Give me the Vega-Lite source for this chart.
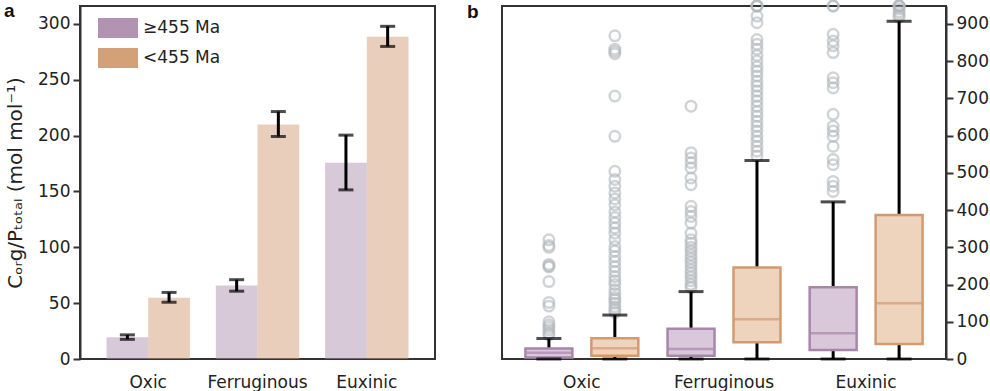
{
  "$schema": "https://vega.github.io/schema/vega-lite/v6.json",
  "padding": {"left": 3, "top": -6, "right": 0, "bottom": 0},
  "spacing": 30,
  "resolve": {"scale": {"xOffset": "independent", "fill": "independent", "stroke": "independent", "color": "independent"}, "legend": {"fill": "independent"}},
  "config": {
    "view": {"stroke": "#333333", "strokeWidth": 2},
    "axis": {"labelFont": "DejaVu Sans", "titleFont": "DejaVu Sans", "labelColor": "#222222", "titleColor": "#222222", "labelFontSize": 17, "grid": false},
    "title": {"font": "Liberation Sans", "fontSize": 19, "fontWeight": "bold", "color": "#111111"}
  },
  "datasets": {
    "bars": [
      {"cat": "Oxic", "grp": "≥455 Ma", "mean": 19.4, "lo": 17.6, "hi": 21.6},
      {"cat": "Oxic", "grp": "<455 Ma", "mean": 54.9, "lo": 50.8, "hi": 59.6},
      {"cat": "Ferruginous", "grp": "≥455 Ma", "mean": 65.7, "lo": 60.7, "hi": 71.0},
      {"cat": "Ferruginous", "grp": "<455 Ma", "mean": 210, "lo": 199.2, "hi": 221.5},
      {"cat": "Euxinic", "grp": "≥455 Ma", "mean": 175.6, "lo": 151.4, "hi": 200.4},
      {"cat": "Euxinic", "grp": "<455 Ma", "mean": 288.5, "lo": 279.8, "hi": 297.8}
    ],
    "boxes": [
      {"cat": "Oxic", "grp": "≥455 Ma", "lo": 0, "q1": 4, "med": 17, "q3": 28, "hi": 55},
      {"cat": "Oxic", "grp": "<455 Ma", "lo": 0, "q1": 9, "med": 29, "q3": 56, "hi": 118},
      {"cat": "Ferruginous", "grp": "≥455 Ma", "lo": 0, "q1": 9, "med": 27, "q3": 81, "hi": 181},
      {"cat": "Ferruginous", "grp": "<455 Ma", "lo": 0, "q1": 45, "med": 107, "q3": 246, "hi": 533},
      {"cat": "Euxinic", "grp": "≥455 Ma", "lo": 0, "q1": 24, "med": 69, "q3": 193, "hi": 422},
      {"cat": "Euxinic", "grp": "<455 Ma", "lo": 0, "q1": 40, "med": 150, "q3": 387, "hi": 907}
    ],
    "outliers": [
      {"cat": "Oxic", "grp": "≥455 Ma", "v": 320}, {"cat": "Oxic", "grp": "≥455 Ma", "v": 305}, {"cat": "Oxic", "grp": "≥455 Ma", "v": 300},
      {"cat": "Oxic", "grp": "≥455 Ma", "v": 254}, {"cat": "Oxic", "grp": "≥455 Ma", "v": 250}, {"cat": "Oxic", "grp": "≥455 Ma", "v": 247},
      {"cat": "Oxic", "grp": "≥455 Ma", "v": 208}, {"cat": "Oxic", "grp": "≥455 Ma", "v": 152}, {"cat": "Oxic", "grp": "≥455 Ma", "v": 142},
      {"cat": "Oxic", "grp": "≥455 Ma", "v": 100}, {"cat": "Oxic", "grp": "≥455 Ma", "v": 92}, {"cat": "Oxic", "grp": "≥455 Ma", "v": 85},
      {"cat": "Oxic", "grp": "≥455 Ma", "v": 78}, {"cat": "Oxic", "grp": "≥455 Ma", "v": 70}, {"cat": "Oxic", "grp": "≥455 Ma", "v": 65},
      {"cat": "Oxic", "grp": "<455 Ma", "v": 868}, {"cat": "Oxic", "grp": "<455 Ma", "v": 832}, {"cat": "Oxic", "grp": "<455 Ma", "v": 826},
      {"cat": "Oxic", "grp": "<455 Ma", "v": 820}, {"cat": "Oxic", "grp": "<455 Ma", "v": 706}, {"cat": "Oxic", "grp": "<455 Ma", "v": 598},
      {"cat": "Oxic", "grp": "<455 Ma", "v": 504}, {"cat": "Oxic", "grp": "<455 Ma", "v": 482}, {"cat": "Oxic", "grp": "<455 Ma", "v": 464},
      {"cat": "Oxic", "grp": "<455 Ma", "v": 446}, {"cat": "Oxic", "grp": "<455 Ma", "v": 430}, {"cat": "Oxic", "grp": "<455 Ma", "v": 414},
      {"cat": "Oxic", "grp": "<455 Ma", "v": 395}, {"cat": "Oxic", "grp": "<455 Ma", "v": 380}, {"cat": "Oxic", "grp": "<455 Ma", "v": 365},
      {"cat": "Oxic", "grp": "<455 Ma", "v": 352}, {"cat": "Oxic", "grp": "<455 Ma", "v": 338}, {"cat": "Oxic", "grp": "<455 Ma", "v": 320},
      {"cat": "Oxic", "grp": "<455 Ma", "v": 302}, {"cat": "Oxic", "grp": "<455 Ma", "v": 290}, {"cat": "Oxic", "grp": "<455 Ma", "v": 275},
      {"cat": "Oxic", "grp": "<455 Ma", "v": 262}, {"cat": "Oxic", "grp": "<455 Ma", "v": 248}, {"cat": "Oxic", "grp": "<455 Ma", "v": 235},
      {"cat": "Oxic", "grp": "<455 Ma", "v": 221}, {"cat": "Oxic", "grp": "<455 Ma", "v": 210}, {"cat": "Oxic", "grp": "<455 Ma", "v": 200},
      {"cat": "Oxic", "grp": "<455 Ma", "v": 186}, {"cat": "Oxic", "grp": "<455 Ma", "v": 175}, {"cat": "Oxic", "grp": "<455 Ma", "v": 165},
      {"cat": "Oxic", "grp": "<455 Ma", "v": 159}, {"cat": "Oxic", "grp": "<455 Ma", "v": 150}, {"cat": "Oxic", "grp": "<455 Ma", "v": 140},
      {"cat": "Oxic", "grp": "<455 Ma", "v": 132}, {"cat": "Oxic", "grp": "<455 Ma", "v": 125},
      {"cat": "Ferruginous", "grp": "≥455 Ma", "v": 679}, {"cat": "Ferruginous", "grp": "≥455 Ma", "v": 554}, {"cat": "Ferruginous", "grp": "≥455 Ma", "v": 540},
      {"cat": "Ferruginous", "grp": "≥455 Ma", "v": 527}, {"cat": "Ferruginous", "grp": "≥455 Ma", "v": 513}, {"cat": "Ferruginous", "grp": "≥455 Ma", "v": 486},
      {"cat": "Ferruginous", "grp": "≥455 Ma", "v": 468}, {"cat": "Ferruginous", "grp": "≥455 Ma", "v": 410}, {"cat": "Ferruginous", "grp": "≥455 Ma", "v": 396},
      {"cat": "Ferruginous", "grp": "≥455 Ma", "v": 383}, {"cat": "Ferruginous", "grp": "≥455 Ma", "v": 365}, {"cat": "Ferruginous", "grp": "≥455 Ma", "v": 338},
      {"cat": "Ferruginous", "grp": "≥455 Ma", "v": 320}, {"cat": "Ferruginous", "grp": "≥455 Ma", "v": 311}, {"cat": "Ferruginous", "grp": "≥455 Ma", "v": 300},
      {"cat": "Ferruginous", "grp": "≥455 Ma", "v": 290}, {"cat": "Ferruginous", "grp": "≥455 Ma", "v": 280}, {"cat": "Ferruginous", "grp": "≥455 Ma", "v": 270},
      {"cat": "Ferruginous", "grp": "≥455 Ma", "v": 260}, {"cat": "Ferruginous", "grp": "≥455 Ma", "v": 250}, {"cat": "Ferruginous", "grp": "≥455 Ma", "v": 240},
      {"cat": "Ferruginous", "grp": "≥455 Ma", "v": 230}, {"cat": "Ferruginous", "grp": "≥455 Ma", "v": 220}, {"cat": "Ferruginous", "grp": "≥455 Ma", "v": 210},
      {"cat": "Ferruginous", "grp": "≥455 Ma", "v": 200}, {"cat": "Ferruginous", "grp": "≥455 Ma", "v": 192},
      {"cat": "Ferruginous", "grp": "<455 Ma", "v": 948}, {"cat": "Ferruginous", "grp": "<455 Ma", "v": 948}, {"cat": "Ferruginous", "grp": "<455 Ma", "v": 948},
      {"cat": "Ferruginous", "grp": "<455 Ma", "v": 921}, {"cat": "Ferruginous", "grp": "<455 Ma", "v": 903}, {"cat": "Ferruginous", "grp": "<455 Ma", "v": 858},
      {"cat": "Ferruginous", "grp": "<455 Ma", "v": 845}, {"cat": "Ferruginous", "grp": "<455 Ma", "v": 832}, {"cat": "Ferruginous", "grp": "<455 Ma", "v": 815},
      {"cat": "Ferruginous", "grp": "<455 Ma", "v": 800}, {"cat": "Ferruginous", "grp": "<455 Ma", "v": 785}, {"cat": "Ferruginous", "grp": "<455 Ma", "v": 773},
      {"cat": "Ferruginous", "grp": "<455 Ma", "v": 760}, {"cat": "Ferruginous", "grp": "<455 Ma", "v": 746}, {"cat": "Ferruginous", "grp": "<455 Ma", "v": 733},
      {"cat": "Ferruginous", "grp": "<455 Ma", "v": 720}, {"cat": "Ferruginous", "grp": "<455 Ma", "v": 706}, {"cat": "Ferruginous", "grp": "<455 Ma", "v": 693},
      {"cat": "Ferruginous", "grp": "<455 Ma", "v": 679}, {"cat": "Ferruginous", "grp": "<455 Ma", "v": 665}, {"cat": "Ferruginous", "grp": "<455 Ma", "v": 652},
      {"cat": "Ferruginous", "grp": "<455 Ma", "v": 638}, {"cat": "Ferruginous", "grp": "<455 Ma", "v": 625}, {"cat": "Ferruginous", "grp": "<455 Ma", "v": 612},
      {"cat": "Ferruginous", "grp": "<455 Ma", "v": 598}, {"cat": "Ferruginous", "grp": "<455 Ma", "v": 585}, {"cat": "Ferruginous", "grp": "<455 Ma", "v": 571},
      {"cat": "Ferruginous", "grp": "<455 Ma", "v": 558}, {"cat": "Ferruginous", "grp": "<455 Ma", "v": 545},
      {"cat": "Euxinic", "grp": "≥455 Ma", "v": 948}, {"cat": "Euxinic", "grp": "≥455 Ma", "v": 948}, {"cat": "Euxinic", "grp": "≥455 Ma", "v": 872},
      {"cat": "Euxinic", "grp": "≥455 Ma", "v": 854}, {"cat": "Euxinic", "grp": "≥455 Ma", "v": 841}, {"cat": "Euxinic", "grp": "≥455 Ma", "v": 823},
      {"cat": "Euxinic", "grp": "≥455 Ma", "v": 755}, {"cat": "Euxinic", "grp": "≥455 Ma", "v": 742}, {"cat": "Euxinic", "grp": "≥455 Ma", "v": 728},
      {"cat": "Euxinic", "grp": "≥455 Ma", "v": 657}, {"cat": "Euxinic", "grp": "≥455 Ma", "v": 625}, {"cat": "Euxinic", "grp": "≥455 Ma", "v": 612},
      {"cat": "Euxinic", "grp": "≥455 Ma", "v": 598}, {"cat": "Euxinic", "grp": "≥455 Ma", "v": 571}, {"cat": "Euxinic", "grp": "≥455 Ma", "v": 536},
      {"cat": "Euxinic", "grp": "≥455 Ma", "v": 522}, {"cat": "Euxinic", "grp": "≥455 Ma", "v": 477}, {"cat": "Euxinic", "grp": "≥455 Ma", "v": 464},
      {"cat": "Euxinic", "grp": "≥455 Ma", "v": 450},
      {"cat": "Euxinic", "grp": "<455 Ma", "v": 948}, {"cat": "Euxinic", "grp": "<455 Ma", "v": 948}, {"cat": "Euxinic", "grp": "<455 Ma", "v": 948},
      {"cat": "Euxinic", "grp": "<455 Ma", "v": 940}, {"cat": "Euxinic", "grp": "<455 Ma", "v": 932}, {"cat": "Euxinic", "grp": "<455 Ma", "v": 925},
      {"cat": "Euxinic", "grp": "<455 Ma", "v": 918}
    ]
  },
  "hconcat": [
    {
      "width": 355,
      "height": 353,
      "title": {"text": "a", "anchor": "start", "frame": "group", "offset": -21, "dx": -76, "dy": 9, "baseline": "alphabetic"},
      "data": {"name": "bars"},
      "encoding": {
        "x": {"field": "cat", "type": "nominal", "sort": ["Oxic", "Ferruginous", "Euxinic"], "scale": {"paddingInner": 0.237, "paddingOuter": 0.2425},
              "axis": {"title": null, "labelAngle": 0, "ticks": false, "tickSize": 0, "labelPadding": 15, "domain": false}},
        "xOffset": {"field": "grp", "type": "nominal", "sort": ["≥455 Ma", "<455 Ma"]}
      },
      "layer": [
        {
          "mark": {"type": "bar", "fillOpacity": 0.5},
          "encoding": {
            "y": {"field": "mean", "type": "quantitative", "scale": {"domain": [0, 316], "nice": false},
                  "axis": {"title": "Cₒᵣg/Pₜₒₜₐₗ (mol mol⁻¹)", "values": [0, 50, 100, 150, 200, 250, 300], "tickSize": 7, "tickWidth": 2, "tickColor": "#333333", "domainColor": "#333333", "domainWidth": 2, "labelPadding": 3, "titleFontSize": 20, "titleFontWeight": "normal", "titlePadding": 12}},
            "fill": {"field": "grp", "type": "nominal", "sort": ["≥455 Ma", "<455 Ma"], "scale": {"range": ["#b294b2", "#d4a078"]},
                     "legend": {"title": null, "orient": "none", "legendX": 18, "legendY": 2, "symbolType": "M-1,-0.5H1V0.5H-1Z", "symbolSize": 1600, "symbolStrokeWidth": 0, "labelFontSize": 17, "labelFont": "DejaVu Sans", "labelColor": "#222222", "labelOffset": 5, "rowPadding": -4, "padding": 0}}
          }
        },
        {
          "mark": {"type": "rule", "color": "black", "strokeWidth": 3},
          "encoding": {"y": {"field": "lo", "type": "quantitative"}, "y2": {"field": "hi"}}
        },
        {
          "mark": {"type": "tick", "color": "black", "thickness": 3, "size": 15},
          "encoding": {"y": {"field": "lo", "type": "quantitative"}}
        },
        {
          "mark": {"type": "tick", "color": "black", "thickness": 3, "size": 15},
          "encoding": {"y": {"field": "hi", "type": "quantitative"}}
        }
      ]
    },
    {
      "width": 444,
      "height": 353,
      "title": {"text": "b", "anchor": "start", "frame": "group", "offset": -24, "dx": -35, "dy": 17, "baseline": "alphabetic"},
      "encoding": {
        "x": {"field": "cat", "type": "nominal", "sort": ["Oxic", "Ferruginous", "Euxinic"], "scale": {"paddingInner": 0.072, "paddingOuter": 0.098},
              "axis": {"title": null, "labelAngle": 0, "ticks": false, "tickSize": 0, "labelPadding": 15, "domain": false}},
        "xOffset": {"field": "grp", "type": "nominal", "sort": ["≥455 Ma", "<455 Ma"], "scale": {"paddingInner": 0.288, "paddingOuter": 0.144}}
      },
      "layer": [
        {
          "data": {"name": "outliers"},
          "mark": {"type": "point", "shape": "circle", "filled": false, "size": 110, "strokeWidth": 2.5, "color": "#b3b8bd", "opacity": 0.6},
          "encoding": {
            "y": {"field": "v", "type": "quantitative", "scale": {"domain": [0, 948], "nice": false},
                  "axis": {"title": null, "orient": "right", "values": [0, 100, 200, 300, 400, 500, 600, 700, 800, 900], "tickCount": 10, "labelOverlap": false, "tickSize": 7, "tickWidth": 2, "tickColor": "#333333", "domainColor": "#333333", "domainWidth": 2, "labelPadding": 3}}
          }
        },
        {
          "data": {"name": "boxes"},
          "mark": {"type": "rule", "color": "black", "strokeWidth": 3},
          "encoding": {"y": {"field": "lo", "type": "quantitative",
                  "axis": {"title": null, "orient": "right", "values": [0, 100, 200, 300, 400, 500, 600, 700, 800, 900], "tickCount": 10, "labelOverlap": false, "tickSize": 7, "tickWidth": 2, "tickColor": "#333333", "domainColor": "#333333", "domainWidth": 2, "labelPadding": 3}}, "y2": {"field": "hi"}}
        },
        {
          "data": {"name": "boxes"},
          "mark": {"type": "bar", "strokeWidth": 2.5},
          "encoding": {
            "y": {"field": "q1", "type": "quantitative",
                  "axis": {"title": null, "orient": "right", "values": [0, 100, 200, 300, 400, 500, 600, 700, 800, 900], "tickCount": 10, "labelOverlap": false, "tickSize": 7, "tickWidth": 2, "tickColor": "#333333", "domainColor": "#333333", "domainWidth": 2, "labelPadding": 3}}, "y2": {"field": "q3"},
            "fill": {"field": "grp", "type": "nominal", "sort": ["≥455 Ma", "<455 Ma"], "scale": {"range": ["#d8c8da", "#eed3bd"]}, "legend": null},
            "stroke": {"field": "grp", "type": "nominal", "sort": ["≥455 Ma", "<455 Ma"], "scale": {"range": ["#a886aa", "#d49a6f"]}, "legend": null}
          }
        },
        {
          "data": {"name": "boxes"},
          "transform": [{"filter": "datum.grp === '≥455 Ma'"}],
          "mark": {"type": "tick", "thickness": 2.5, "size": 45, "color": "#a886aa"},
          "encoding": {"y": {"field": "med", "type": "quantitative",
                  "axis": {"title": null, "orient": "right", "values": [0, 100, 200, 300, 400, 500, 600, 700, 800, 900], "tickCount": 10, "labelOverlap": false, "tickSize": 7, "tickWidth": 2, "tickColor": "#333333", "domainColor": "#333333", "domainWidth": 2, "labelPadding": 3}}}
        },
        {
          "data": {"name": "boxes"},
          "transform": [{"filter": "datum.grp === '<455 Ma'"}],
          "mark": {"type": "tick", "thickness": 2.5, "size": 45, "color": "#d49a6f"},
          "encoding": {"y": {"field": "med", "type": "quantitative",
                  "axis": {"title": null, "orient": "right", "values": [0, 100, 200, 300, 400, 500, 600, 700, 800, 900], "tickCount": 10, "labelOverlap": false, "tickSize": 7, "tickWidth": 2, "tickColor": "#333333", "domainColor": "#333333", "domainWidth": 2, "labelPadding": 3}}}
        },
        {
          "data": {"name": "boxes"},
          "mark": {"type": "tick", "color": "black", "thickness": 3, "size": 25},
          "encoding": {"y": {"field": "hi", "type": "quantitative",
                  "axis": {"title": null, "orient": "right", "values": [0, 100, 200, 300, 400, 500, 600, 700, 800, 900], "tickCount": 10, "labelOverlap": false, "tickSize": 7, "tickWidth": 2, "tickColor": "#333333", "domainColor": "#333333", "domainWidth": 2, "labelPadding": 3}}}
        },
        {
          "data": {"name": "boxes"},
          "mark": {"type": "tick", "color": "black", "thickness": 3, "size": 25},
          "encoding": {"y": {"field": "lo", "type": "quantitative",
                  "axis": {"title": null, "orient": "right", "values": [0, 100, 200, 300, 400, 500, 600, 700, 800, 900], "tickCount": 10, "labelOverlap": false, "tickSize": 7, "tickWidth": 2, "tickColor": "#333333", "domainColor": "#333333", "domainWidth": 2, "labelPadding": 3}}}
        }
      ]
    }
  ]
}
